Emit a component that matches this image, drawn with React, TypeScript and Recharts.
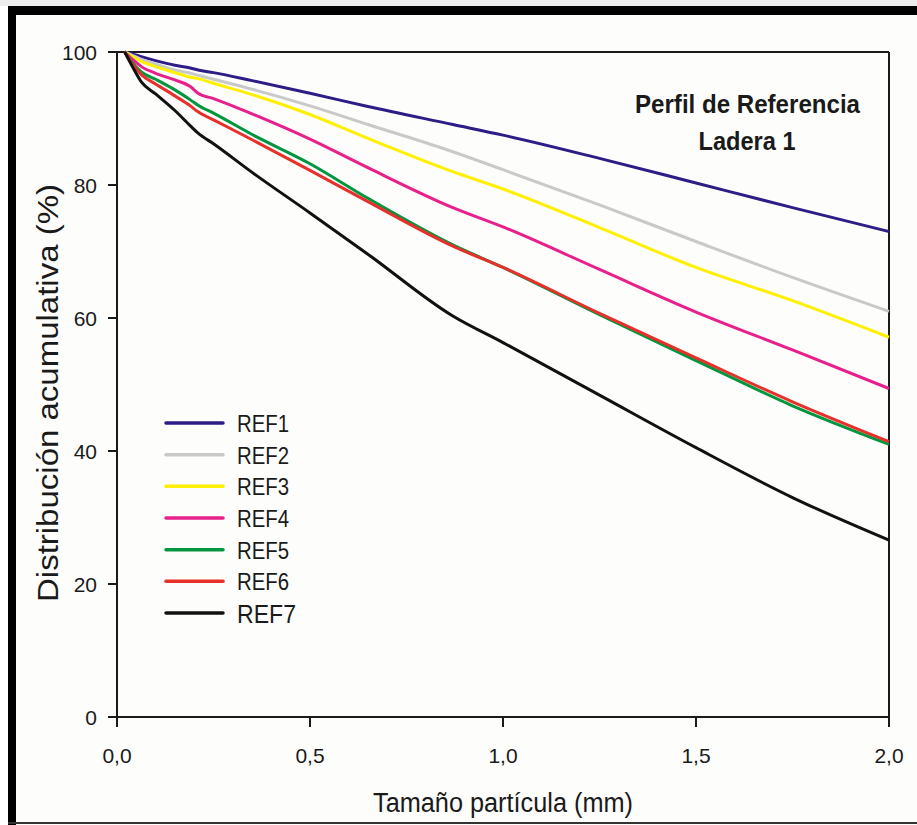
import {
	Customized,
	Legend,
	Line,
	LineChart,
	ReferenceLine,
	XAxis,
	YAxis,
} from 'recharts';

// tamaño de partícula (mm)
const sizes = [0.02, 0.04, 0.063, 0.1, 0.15, 0.19, 0.21, 0.25, 0.35, 0.5, 0.65, 0.87, 1.0, 1.25, 1.5, 1.75, 2.0];

// distribución acumulativa (%)
const ref1 = [100, 99.7, 99.3, 98.7, 98.0, 97.6, 97.3, 96.9, 95.7, 93.8, 91.8, 89.1, 87.5, 84.0, 80.3, 76.6, 73.0];
const ref2 = [100, 99.5, 98.9, 98.2, 97.3, 96.8, 96.5, 95.9, 94.4, 91.9, 89.1, 85.0, 82.3, 77.0, 71.5, 66.1, 61.0];
const ref3 = [100, 99.3, 98.6, 97.8, 96.9, 96.2, 96.0, 95.3, 93.6, 90.6, 87.0, 82.0, 79.4, 73.6, 67.6, 62.6, 57.1];
const ref4 = [100, 98.9, 97.8, 96.8, 95.8, 94.8, 93.8, 93.0, 90.7, 86.9, 82.6, 76.6, 73.7, 67.3, 60.9, 55.2, 49.4];
const ref5 = [100, 98.4, 97.0, 95.9, 94.3, 92.8, 92.0, 90.8, 87.6, 83.2, 78.0, 71.0, 67.6, 60.5, 53.6, 46.8, 41.0];
const ref6 = [100, 98.2, 96.6, 95.2, 93.4, 91.9, 91.0, 89.8, 86.8, 82.2, 77.5, 70.8, 67.6, 60.7, 54.0, 47.4, 41.4];
const ref7 = [100, 97.8, 95.5, 93.7, 91.2, 88.9, 87.8, 86.2, 81.9, 75.8, 69.6, 60.3, 56.3, 48.4, 40.5, 33.0, 26.6];

const series = ['REF1', 'REF2', 'REF3', 'REF4', 'REF5', 'REF6', 'REF7'];
const colors = ['#2f1c86', '#c9c9c9', '#fff000', '#e8208c', '#00963f', '#e8302a', '#111111'];
const xTicks = [0, 0.5, 1, 1.5, 2];
const yTicks = [0, 20, 40, 60, 80, 100];

const values = [ref1, ref2, ref3, ref4, ref5, ref6, ref7];
const data = sizes.map((x, i) => {
	const row: { [key: string]: number } = { x };
	series.forEach((name, s) => {
		row[name] = values[s][i];
	});
	return row;
});

const FONT = '"Liberation Sans", Arial, sans-serif';
const INK = '#1a1a1a';

const XTick = (props: any) => {
	const { x, y, payload } = props;
	return (
		<text x={x} y={y} dy={16} textAnchor="middle" fontFamily={FONT} fontSize={21} fill={INK}>
			{Number(payload.value).toFixed(1).replace('.', ',')}
		</text>
	);
};

const YTick = (props: any) => {
	const { x, y, payload } = props;
	return (
		<text x={x} y={y} dy={7.5} textAnchor="end" fontFamily={FONT} fontSize={21} fill={INK}>
			{payload.value}
		</text>
	);
};

const Labels = () => (
	<g fontFamily={FONT} fill={INK}>
		<text
			x={739.5}
			y={107}
			textAnchor="middle"
			fontWeight="bold"
			fontSize={25}
			textLength={225}
			lengthAdjust="spacingAndGlyphs"
		>
			Perfil de Referencia
		</text>
		<text
			x={739}
			y={144}
			textAnchor="middle"
			fontWeight="bold"
			fontSize={25}
			textLength={97}
			lengthAdjust="spacingAndGlyphs"
		>
			Ladera 1
		</text>
		<text
			x={495}
			y={806}
			textAnchor="middle"
			fontSize={27}
			textLength={260}
			lengthAdjust="spacingAndGlyphs"
		>
			Tamaño partícula (mm)
		</text>
		<text
			x={50}
			y={387}
			textAnchor="middle"
			fontSize={29}
			textLength={418}
			lengthAdjust="spacingAndGlyphs"
			transform="rotate(-90, 50, 387)"
		>
			Distribución acumulativa (%)
		</text>
	</g>
);

const renderLegend = (props: any) => {
	const { payload } = props;
	return (
		<svg width={200} height={220} style={{ overflow: 'visible' }}>
			{payload.map((entry: any, i: number) => {
				const y = 17 + i * 31.67;
				const last = i === payload.length - 1;
				return (
					<g key={entry.value}>
						<line
							x1={8}
							x2={65}
							y1={y}
							y2={y}
							stroke={entry.color}
							strokeWidth={3.5}
							strokeLinecap="round"
						/>
						<text
							x={79}
							y={y + (last ? 10 : 9)}
							fontFamily={FONT}
							fontSize={last ? 26 : 23}
							fill={INK}
							textLength={last ? 59 : 52}
							lengthAdjust="spacingAndGlyphs"
						>
							{entry.value}
						</text>
					</g>
				);
			})}
		</svg>
	);
};

const App = () => {
	return (
		<div
			style={{
				position: 'absolute',
				left: 8,
				top: 0,
				width: 909,
				height: 825,
				background: '#fdfdfb',
			}}
		>
			<div style={{ position: 'absolute', left: -8, top: 0, width: 917, height: 6, background: '#ececec' }} />
			<div style={{ position: 'absolute', left: 0, top: 6, width: 909, height: 9, background: '#000' }} />
			<div style={{ position: 'absolute', left: 0, top: 6, width: 8, height: 819, background: '#000' }} />
			<div style={{ position: 'absolute', left: 0, top: 822, width: 909, height: 2, background: '#333' }} />
			<div style={{ position: 'absolute', left: 0, top: 6 }}>
				<LineChart
					width={909}
					height={816}
					data={data}
					margin={{ top: 46, right: 28, left: 0, bottom: 0 }}
				>
					<XAxis
						dataKey="x"
						type="number"
						domain={[0, 2]}
						ticks={xTicks}
						height={105}
						tickSize={10}
						tickMargin={20}
						axisLine={{ stroke: INK, strokeWidth: 2 }}
						tickLine={{ stroke: INK, strokeWidth: 2 }}
						tick={<XTick />}
					/>
					<YAxis
						type="number"
						domain={[0, 100]}
						ticks={yTicks}
						width={109}
						tickSize={9}
						tickMargin={11}
						axisLine={{ stroke: INK, strokeWidth: 2 }}
						tickLine={{ stroke: INK, strokeWidth: 2 }}
						tick={<YTick />}
					/>
					<ReferenceLine y={100} stroke={INK} strokeWidth={2} />
					<ReferenceLine x={2} stroke={INK} strokeWidth={2} />
					{series.map((name, s) => (
						<Line
							key={name}
							type="monotone"
							dataKey={name}
							stroke={colors[s]}
							strokeWidth={3}
							dot={false}
							isAnimationActive={false}
						/>
					))}
					<Legend
						layout="vertical"
						align="center"
						verticalAlign="middle"
						content={renderLegend}
						wrapperStyle={{ position: 'absolute', left: 150, top: 400, width: 200, height: 220 }}
					/>
					<Customized component={<Labels />} />
				</LineChart>
			</div>
		</div>
	);
};

export default App;
